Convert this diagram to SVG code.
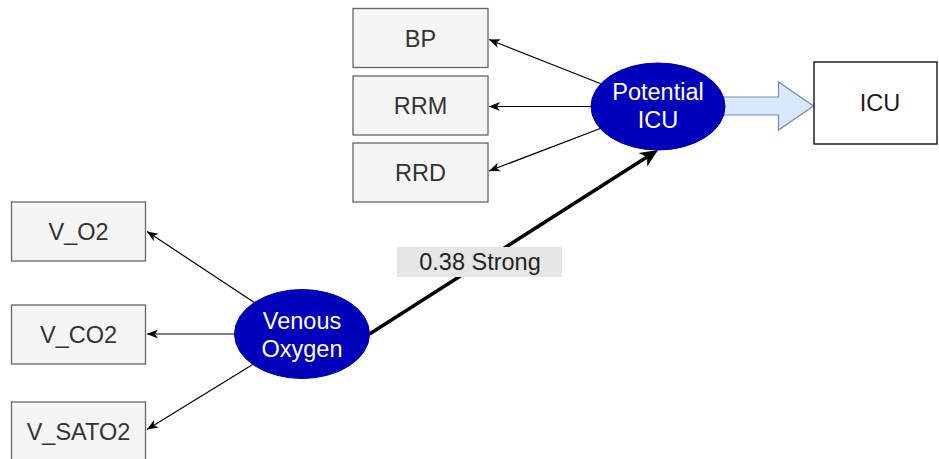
<svg xmlns="http://www.w3.org/2000/svg" width="939" height="459" viewBox="0 0 939 459">
<defs>
<style>
.box{fill:#f5f5f5;stroke:#666666;stroke-width:1.3}
.btxt{font-family:"Liberation Sans",Arial,sans-serif;font-size:23.5px;fill:#333333;text-anchor:middle}
.ell{fill:#0000bb;stroke:#0000a8;stroke-width:1}
.etxt{font-family:"Liberation Sans",Arial,sans-serif;font-size:23.5px;fill:#ffffff;text-anchor:middle}
.edge{fill:none;stroke:#000000;stroke-width:1.2}
.thick{fill:none;stroke:#000000;stroke-width:3.5}
</style>
<marker id="arr" viewBox="-12 -6 14 12" markerWidth="14" markerHeight="12" refX="0" refY="0" orient="auto" markerUnits="userSpaceOnUse">
<path d="M -11 -4.5 L 0 0 L -11 4.5 L -8 0 Z" fill="#000000"/>
</marker>
<marker id="arrBig" viewBox="-10 -9 20 18" markerWidth="20" markerHeight="18" refX="0" refY="0" orient="auto" markerUnits="userSpaceOnUse">
<path d="M -9 -8 L 9 0 L -9 8 L -4 0 Z" fill="#000000"/>
</marker>
</defs>
<rect width="939" height="459" fill="#ffffff"/>

<g id="connectors">
<line class="edge" x1="600.8" y1="83.8" x2="489" y2="39.5" marker-end="url(#arr)"/>
<line class="edge" x1="591" y1="106.5" x2="489" y2="106.5" marker-end="url(#arr)"/>
<line class="edge" x1="600.2" y1="128.5" x2="489" y2="171" marker-end="url(#arr)"/>
<line class="edge" x1="254.3" y1="302.5" x2="147" y2="231.5" marker-end="url(#arr)"/>
<line class="edge" x1="234.5" y1="334" x2="147" y2="334" marker-end="url(#arr)"/>
<line class="edge" x1="252.7" y1="364.4" x2="147" y2="429.5" marker-end="url(#arr)"/>
<line class="thick" x1="369.5" y1="334" x2="650.5" y2="154.8" marker-end="url(#arrBig)"/>
<g id="edge-label">
<rect x="397" y="247" width="165" height="30" fill="#e6e6e6"/>
<text x="480" y="270" font-family="'Liberation Sans',Arial,sans-serif" font-size="23.5px" fill="#222222" text-anchor="middle">0.38 Strong</text>
</g>
</g>

<g id="flow-arrow">
<path d="M 716 97 L 778.5 97 L 778.5 82 L 813.5 106 L 778.5 130 L 778.5 115 L 716 115 Z" fill="#dae8fc" stroke="#6c8ebf" stroke-width="1.2"/>
</g>

<g id="node-bp"><rect class="box" x="353" y="8.5" width="135" height="59"/><text class="btxt" x="420.5" y="46.5">BP</text></g>
<g id="node-rrm"><rect class="box" x="353" y="76" width="135" height="59"/><text class="btxt" x="420.5" y="114">RRM</text></g>
<g id="node-rrd"><rect class="box" x="353" y="143" width="135" height="59"/><text class="btxt" x="420.5" y="181">RRD</text></g>

<g id="node-potential-icu"><ellipse class="ell" cx="658" cy="106.5" rx="67" ry="43.5"/><text class="etxt" x="658" y="100">Potential</text><text class="etxt" x="658" y="127.5">ICU</text></g>

<g id="node-icu"><rect x="814" y="62" width="123" height="82" fill="#ffffff" stroke="#000000" stroke-width="1.3"/><text x="880" y="111" font-family="'Liberation Sans',Arial,sans-serif" font-size="23.5px" fill="#1a1a1a" text-anchor="middle">ICU</text></g>

<g id="node-v-o2"><rect class="box" x="11.5" y="202" width="134" height="59"/><text class="btxt" x="78.5" y="240">V_O2</text></g>
<g id="node-v-co2"><rect class="box" x="11.5" y="305" width="134" height="59"/><text class="btxt" x="78.5" y="343">V_CO2</text></g>
<g id="node-v-sato2"><rect class="box" x="11.5" y="402" width="134" height="59"/><text class="btxt" x="78.5" y="440">V_SATO2</text></g>

<g id="node-venous-oxygen"><ellipse class="ell" cx="302" cy="334" rx="67.5" ry="44.5"/><text class="etxt" x="302" y="328.5">Venous</text><text class="etxt" x="302" y="356.5">Oxygen</text></g>
</svg>
